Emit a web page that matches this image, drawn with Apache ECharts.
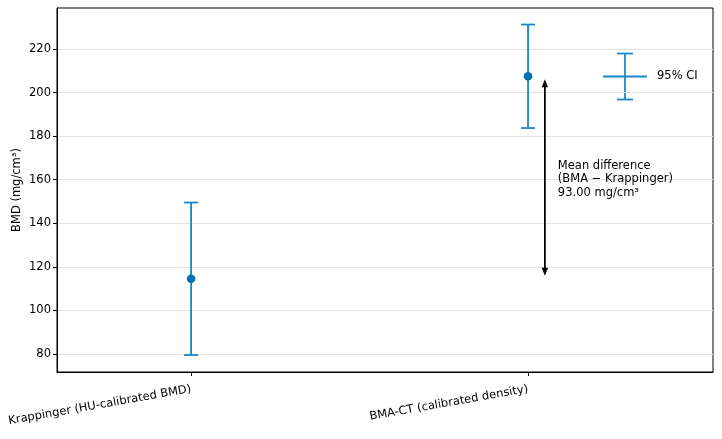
<!DOCTYPE html>
<html>
<head>
<meta charset="utf-8">
<script src="https://cdn.jsdelivr.net/npm/echarts@6/dist/echarts.min.js"></script>
<style>
  html, body { margin: 0; padding: 0; background: #fff; }
  #chart { width: 722px; height: 439px; }
</style>
</head>
<body>
<div id="chart"></div>
<script>
// data
const categories = ['Krappinger (HU-calibrated BMD)', 'BMA-CT (calibrated density)']
const means = [114.5, 207.5]
const lowerCI = [79.5, 183.7]
const upperCI = [149.5, 231.2]
const yTicks = [80, 100, 120, 140, 160, 180, 200, 220]
const meanDiff = 93.00

const lineColor = '#1a88c6'
const dotColor = '#0072b2'
const font = 'DejaVu Sans'
const fs = 11.5

const myChart = echarts.init(document.getElementById('chart'))

function renderErrorBar (params, api) {
  const x = api.value(0)
  const mid = api.coord([x, api.value(1)])
  const lo = api.coord([x, api.value(2)])
  const hi = api.coord([x, api.value(3)])
  const cap = 7
  const style = { stroke: lineColor, lineWidth: 1.8 }
  return {
    type: 'group',
    children: [
      { type: 'line', shape: { x1: lo[0], y1: lo[1], x2: hi[0], y2: hi[1] }, style },
      { type: 'line', shape: { x1: hi[0] - cap, y1: hi[1], x2: hi[0] + cap, y2: hi[1] }, style },
      { type: 'line', shape: { x1: lo[0] - cap, y1: lo[1], x2: lo[0] + cap, y2: lo[1] }, style },
      { type: 'circle', shape: { cx: mid[0], cy: mid[1], r: 4.3 }, style: { fill: dotColor } }
    ]
  }
}

// double-headed arrow between the two means, with its label
function renderArrow (params, api) {
  const x = api.value(0)
  const a = api.coord([x, api.value(1)])
  const b = api.coord([x, api.value(2)])
  const shrink = 3
  const yLow = a[1] - shrink
  const yHigh = b[1] + shrink
  const hw = 3.2
  const hl = 8
  const midY = (a[1] + b[1]) / 2
  return {
    type: 'group',
    children: [
      { type: 'line', shape: { x1: a[0], y1: yLow - hl + 1, x2: b[0], y2: yHigh + hl - 1 }, style: { stroke: '#000', lineWidth: 1.8 } },
      { type: 'polygon', shape: { points: [[a[0], yLow], [a[0] - hw, yLow - hl], [a[0] + hw, yLow - hl]] }, style: { fill: '#000' } },
      { type: 'polygon', shape: { points: [[b[0], yHigh], [b[0] - hw, yHigh + hl], [b[0] + hw, yHigh + hl]] }, style: { fill: '#000' } },
      {
        type: 'text',
        x: a[0] + 13,
        y: midY + 2,
        style: {
          text: 'Mean difference\n(BMA \u2212 Krappinger)\n' + meanDiff.toFixed(2) + ' mg/cm\u00b3',
          font: fs + 'px "' + font + '"',
          fill: '#000',
          lineHeight: 13.5,
          align: 'left',
          verticalAlign: 'middle'
        }
      }
    ]
  }
}

const option = {
  animation: false,
  textStyle: { fontFamily: font },
  grid: {
    left: 57,
    right: 9,
    top: 8,
    bottom: 67,
    outerBoundsMode: 'none',
    containLabel: false,
    show: true,
    borderColor: '#000',
    borderWidth: 1
  },
  xAxis: {
    type: 'value',
    min: -0.398,
    max: 1.549,
    axisLine: { show: true, onZero: false, lineStyle: { color: '#000' } },
    axisTick: { show: true, length: 4, customValues: [0, 1], lineStyle: { color: '#000' } },
    axisLabel: {
      customValues: [0, 1],
      formatter: v => categories[Math.round(v)],
      rotate: 10,
      color: '#000',
      fontSize: fs,
      margin: 17
    },
    splitLine: { show: false }
  },
  yAxis: {
    type: 'value',
    min: 71.7,
    max: 238.8,
    name: 'BMD (mg/cm\u00b3)',
    nameLocation: 'middle',
    nameGap: 34,
    nameMoveOverlap: false,
    nameTextStyle: { color: '#000', fontSize: fs },
    axisLine: { show: true, onZero: false, lineStyle: { color: '#000' } },
    axisTick: { show: true, length: 4, customValues: yTicks, lineStyle: { color: '#000' } },
    axisLabel: { customValues: yTicks, color: '#000', fontSize: fs, margin: 6 },
    splitLine: { show: true, lineStyle: { color: '#e2e2e2', width: 1 } }
  },
  series: [
    {
      type: 'custom',
      renderItem: renderErrorBar,
      data: categories.map((c, i) => [i, means[i], lowerCI[i], upperCI[i]]),
      z: 3
    },
    {
      type: 'custom',
      renderItem: renderArrow,
      data: [[1.05, means[0], means[1]]],
      z: 4
    }
  ],
  graphic: [
    // legend entry for the 95% CI
    { type: 'line', shape: { x1: 603, y1: 76.5, x2: 647, y2: 76.5 }, style: { stroke: lineColor, lineWidth: 1.8 } },
    { type: 'line', shape: { x1: 625, y1: 53.5, x2: 625, y2: 99.5 }, style: { stroke: lineColor, lineWidth: 1.8 } },
    { type: 'line', shape: { x1: 617, y1: 53.5, x2: 633, y2: 53.5 }, style: { stroke: lineColor, lineWidth: 1.8 } },
    { type: 'line', shape: { x1: 617, y1: 99.5, x2: 633, y2: 99.5 }, style: { stroke: lineColor, lineWidth: 1.8 } },
    {
      type: 'text',
      x: 657,
      y: 76.5,
      style: { text: '95% CI', font: fs + 'px "' + font + '"', fill: '#000', verticalAlign: 'middle' }
    }
  ]
}

myChart.setOption(option)

window.addEventListener('resize', () => {
  myChart.resize()
})
</script>
</body>
</html>
